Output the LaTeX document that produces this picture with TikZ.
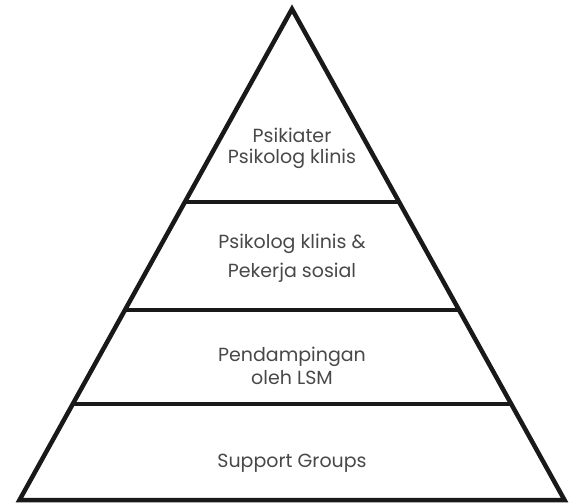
\documentclass[tikz,border=0pt]{standalone}
\usepackage{fontspec}
\setmainfont{Poppins}
\usetikzlibrary{calc}
\definecolor{txtgray}{HTML}{484848}

\begin{document}
\begin{tikzpicture}[x=1pt, y=-1pt, line join=miter,
    edge/.style={draw=black!90, line width=4.5pt},
    tier/.style={text=txtgray, anchor=base, font=\fontsize{19}{21}\selectfont, inner sep=0pt}]
        \useasboundingbox (0,0) rectangle (569,503);
        % corners of the pyramid
        \coordinate (top) at (292,9);
        \coordinate (bl) at (19.5,500);
        \coordinate (br) at (564.5,500);
        % dividing lines between the tiers
        \foreach \n/\t in {a/0.393, b/0.613, c/0.804} {
            \coordinate (l\n) at ($(top)!\t!(bl)$);
            \coordinate (r\n) at ($(top)!\t!(br)$);
            \draw[edge] (l\n) -- (r\n);
        }
        \draw[edge] (top) -- (bl) -- (br) -- cycle;
        % labels, one node per line
        \node[tier] (t1a) at (292,142) {Psikiater};
        \node[tier] (t1b) at (292,163) {Psikolog klinis};
        \node[tier] (t2a) at (292,248) {Psikolog klinis \&};
        \node[tier] (t2b) at (292,277) {Pekerja sosial};
        \node[tier] (t3a) at (292,361) {Pendampingan};
        \node[tier] (t3b) at (292,384) {oleh LSM};
        \node[tier] (t4) at (292,467) {Support Groups};
\end{tikzpicture}
\end{document}
